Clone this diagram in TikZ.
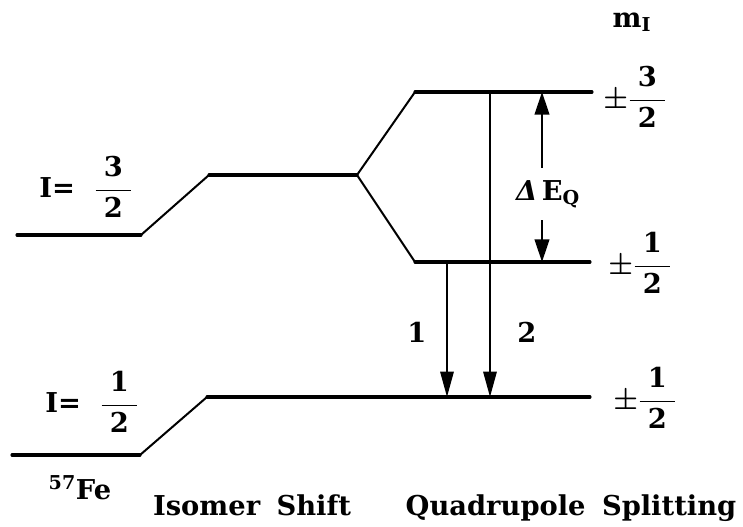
\documentclass[tikz,border=0pt]{standalone}
\usepackage{amsmath}
\usepackage{fontspec}
\setmainfont{DejaVu Serif}
\usetikzlibrary{arrows.meta,positioning}
\newcommand{\wfrac}[2]{\dfrac{\hspace{0.3em}\text{#1}\hspace{0.3em}}{\text{#2}}}

\begin{document}
\begin{tikzpicture}[x=0.75pt,y=-0.75pt,
    level/.style={line width=2.3pt,line cap=round},
    ramp/.style={line width=1.5pt,line cap=round},
    trans/.style={-{Triangle[length=19pt,width=10pt]},line width=1.5pt},
    split/.style={{Triangle[length=17pt,width=11pt]}-{Triangle[length=17pt,width=11pt]},line width=1.5pt},
    lbl/.style={font=\fontsize{20.5}{24}\selectfont\bfseries\boldmath,inner sep=0pt}]
    \useasboundingbox (0,0) rectangle (743,526);

    % excited state I=3/2
    \coordinate (u0) at (17,235);
    \coordinate (u1) at (141,235);
    \coordinate (u2) at (209,175);
    \coordinate (u3) at (357,175);
    \draw[level] (u0) -- (u1);
    \draw[ramp] (u1) -- (u2);
    \draw[level] (u2) -- (u3);

    % quadrupole split sublevels
    \coordinate (a0) at (415,92);
    \coordinate (a1) at (592,92);
    \coordinate (b0) at (415,262);
    \coordinate (b1) at (590,262);
    \draw[ramp] (u3) -- (a0);
    \draw[ramp] (u3) -- (b0);
    \draw[level] (a0) -- (a1);
    \draw[level] (b0) -- (b1);

    % ground state I=1/2
    \coordinate (g0) at (12,455);
    \coordinate (g1) at (140,455);
    \coordinate (g2) at (207,397);
    \coordinate (g3) at (590,397);
    \draw[level] (g0) -- (g1);
    \draw[ramp] (g1) -- (g2);
    \draw[level] (g2) -- (g3);

    % transitions 1 and 2
    \coordinate (t1s) at (447,262);
    \coordinate (t1e) at (447,397);
    \coordinate (t2s) at (490,92);
    \coordinate (t2e) at (490,397);
    \draw[trans] (t1s) -- (t1e);
    \draw[trans] (t2s) -- (t2e);
    \node[lbl] (n1) at (417,332) {1};
    \node[lbl] (n2) at (527,332) {2};

    % splitting Delta E_Q
    \coordinate (qa) at (542,92);
    \coordinate (qb) at (542,262);
    \draw[split] (qa) -- node[lbl,pos=0.6,fill=white,inner xsep=0pt,inner ysep=9pt,xshift=4.5pt] (dEQ) {{\itshape Δ}\,E$_{\text{Q}}$} (qb);

    % m_I values
    \node[lbl] (mI) at (632,22) {m$_{\text{I}}$};
    \node[lbl] (m32) at (635,97) {$\pm\wfrac{3}{2}$};
    \node[lbl] (m12u) at (640,263) {$\pm\wfrac{1}{2}$};
    \node[lbl] (m12g) at (645,398) {$\pm\wfrac{1}{2}$};

    % spins and captions
    \node[lbl] (I32) at (86,187) {I=\hspace{0.7em}$\wfrac{3}{2}$};
    \node[lbl] (I12) at (92,402) {I=\hspace{0.7em}$\wfrac{1}{2}$};
    \node[lbl] (fe) at (80,488) {$^{\text{57}}$Fe};
    \node[lbl] (iso) at (252,505) {Isomer\hspace{0.6em}Shift};
    \node[lbl] (qs) at (571,508) {Quadrupole\hspace{0.6em}Splitting};
\end{tikzpicture}
\end{document}
